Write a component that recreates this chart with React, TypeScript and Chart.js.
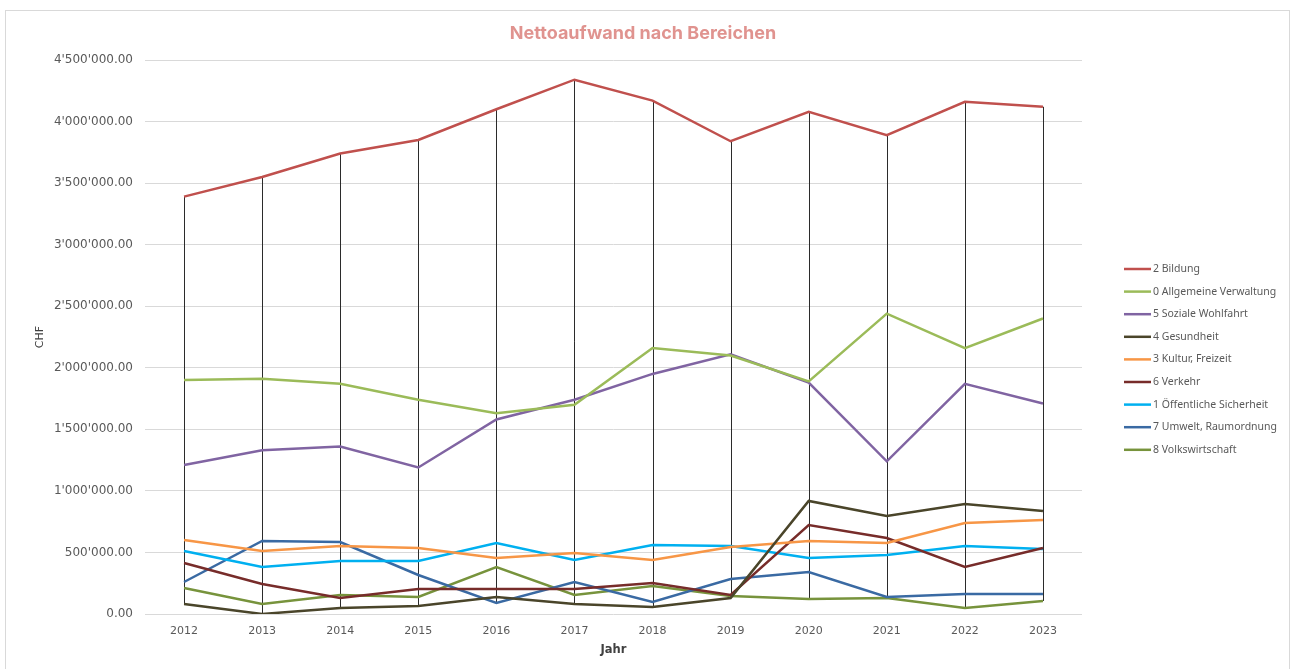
import React, { useEffect, useRef } from "react";
import { Chart, registerables } from "chart.js";

Chart.register(...registerables);

const years = ["2012", "2013", "2014", "2015", "2016", "2017", "2018", "2019", "2020", "2021", "2022", "2023"];

const bildung = [3390000, 3550000, 3740000, 3850000, 4100000, 4340000, 4170000, 3840000, 4080000, 3890000, 4160000, 4120000];
const verwaltung = [1900000, 1910000, 1870000, 1740000, 1630000, 1700000, 2160000, 2100000, 1890000, 2440000, 2160000, 2400000];
const wohlfahrt = [1210000, 1330000, 1360000, 1190000, 1580000, 1740000, 1950000, 2110000, 1880000, 1240000, 1870000, 1710000];
const gesundheit = [81000, 0, 49000, 65000, 138000, 81000, 57000, 130000, 918000, 796000, 894000, 837000];
const kultur = [601000, 512000, 552000, 536000, 455000, 495000, 439000, 544000, 593000, 577000, 739000, 764000];
const verkehr = [414000, 244000, 130000, 203000, 203000, 203000, 252000, 154000, 723000, 617000, 382000, 536000];
const sicherheit = [512000, 382000, 430000, 430000, 577000, 439000, 560000, 552000, 455000, 479000, 552000, 528000];
const umwelt = [260000, 593000, 585000, 317000, 89000, 260000, 97000, 284000, 341000, 138000, 162000, 162000];
const volkswirtschaft = [211000, 81000, 154000, 138000, 382000, 154000, 227000, 146000, 122000, 130000, 49000, 106000];

const seriesNames = [
  "2 Bildung",
  "0 Allgemeine Verwaltung",
  "5 Soziale Wohlfahrt",
  "4 Gesundheit",
  "3 Kultur, Freizeit",
  "6 Verkehr",
  "1 Öffentliche Sicherheit",
  "7 Umwelt, Raumordnung",
  "8 Volkswirtschaft",
];
const seriesData = [bildung, verwaltung, wohlfahrt, gesundheit, kultur, verkehr, sicherheit, umwelt, volkswirtschaft];
const seriesColors = ["#c0504d", "#9bbb59", "#8064a2", "#4a452a", "#f79646", "#772c2a", "#00b0f0", "#3a6aa3", "#77933c"];

const chartTitle = "Nettoaufwand nach Bereichen";
const yTicks = { min: 0, max: 4500000, step: 500000 };

function fmt(v: number): string {
  const [i, d] = v.toFixed(2).split(".");
  return i.replace(/\B(?=(\d{3})+(?!\d))/g, "'") + "." + d;
}

const hiLoPlugin = {
  id: "hiLo",
  beforeDatasetsDraw(chart: any) {
    const { ctx, scales } = chart;
    const x = scales.x;
    const y = scales.y;
    ctx.save();
    ctx.strokeStyle = "#2b2b2b";
    ctx.lineWidth = 1;
    years.forEach((_, i) => {
      const vals = chart.data.datasets.map((ds: any) => ds.data[i] as number);
      const hi = Math.max(...vals);
      const lo = Math.min(...vals);
      const px = Math.round(x.getPixelForValue(i)) + 0.5;
      ctx.beginPath();
      ctx.moveTo(px, y.getPixelForValue(hi));
      ctx.lineTo(px, y.getPixelForValue(lo));
      ctx.stroke();
    });
    ctx.restore();
  },
};

const decorPlugin = {
  id: "decor",
  afterDraw(chart: any) {
    const { ctx } = chart;
    ctx.save();
    // title centred on the whole canvas
    ctx.font = "bold 18px Inter, 'Liberation Sans', sans-serif";
    ctx.fillStyle = "#e0938f";
    ctx.textAlign = "center";
    ctx.textBaseline = "middle";
    ctx.fillText(chartTitle, 643, 34);
    // legend
    ctx.font = "10.5px 'Noto Sans', 'Liberation Sans', sans-serif";
    ctx.textAlign = "left";
    chart.data.datasets.forEach((ds: any, i: number) => {
      const yy = 269 + i * 22.6;
      ctx.strokeStyle = ds.borderColor;
      ctx.lineWidth = 2.5;
      ctx.beginPath();
      ctx.moveTo(1124, yy);
      ctx.lineTo(1151, yy);
      ctx.stroke();
      ctx.fillStyle = "#595959";
      ctx.fillText(ds.label, 1153, yy);
    });
    ctx.restore();
  },
};

export default function App() {
  const ref = useRef<HTMLCanvasElement>(null);
  useEffect(() => {
    if (!ref.current) return;
    const chart = new Chart(ref.current, {
      type: "line",
      data: {
        labels: years,
        datasets: seriesNames.map((name, i) => ({
          label: name,
          data: seriesData[i],
          borderColor: seriesColors[i],
          backgroundColor: seriesColors[i],
          borderWidth: 2.5,
          pointRadius: 0,
          tension: 0,
          fill: false,
        })),
      },
      options: {
        animation: false,
        responsive: false,
        maintainAspectRatio: false,
        layout: { padding: { left: 30, right: 208, top: 60, bottom: 5 } },
        plugins: {
          legend: { display: false },
          tooltip: { enabled: false },
          title: { display: false },
        },
        scales: {
          x: {
            offset: true,
            afterFit: (scale: any) => {
              scale.height = 50;
            },
            grid: { display: false, drawTicks: false },
            border: { display: false },
            ticks: {
              color: "#595959",
              padding: 11,
              font: { family: "'DejaVu Sans', sans-serif", size: 11 },
              maxRotation: 0,
            },
            title: {
              display: true,
              text: "Jahr",
              color: "#404040",
              font: { family: "'DejaVu Sans', sans-serif", size: 11.5, weight: "bold" },
              padding: { top: 4, bottom: 7 },
            },
          },
          y: {
            min: yTicks.min,
            max: yTicks.max,
            afterFit: (scale: any) => {
              scale.width = 115;
            },
            grid: { color: "#d9d9d9", lineWidth: 1, drawTicks: false },
            border: { display: false },
            ticks: {
              stepSize: yTicks.step,
              color: "#595959",
              padding: 12,
              font: { family: "'DejaVu Sans', sans-serif", size: 12 },
              callback: (v: any) => fmt(Number(v)),
            },
            title: {
              display: true,
              text: "CHF",
              color: "#404040",
              font: { family: "'DejaVu Sans', sans-serif", size: 11 },
            },
          },
        },
      },
      plugins: [hiLoPlugin, decorPlugin],
    });
    return () => chart.destroy();
  }, []);

  return (
    <div style={{ position: "fixed", left: 0, top: 0, width: 1290, height: 669, overflow: "hidden", background: "#fff" }}>
      <div
        style={{
          position: "absolute",
          left: 5,
          top: 10,
          width: 1285,
          height: 700,
          border: "1px solid #d9d9d9",
          boxSizing: "border-box",
        }}
      />
      <canvas ref={ref} width={1290} height={669} style={{ position: "absolute", left: 0, top: 0, width: 1290, height: 669 }} />
    </div>
  );
}
